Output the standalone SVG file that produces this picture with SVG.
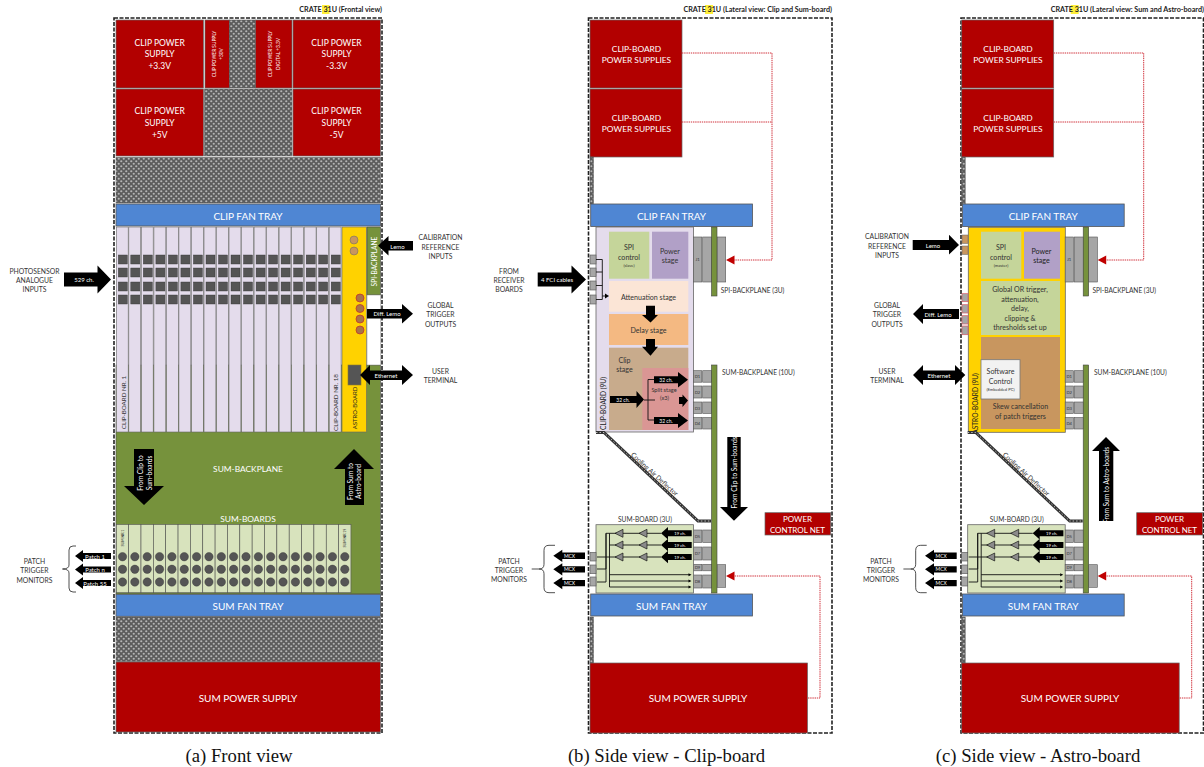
<svg xmlns="http://www.w3.org/2000/svg" width="1204" height="767" viewBox="0 0 1204 767">
<style>
text{font-family:Lato,"Open Sans","Liberation Sans",sans-serif;text-anchor:middle;dominant-baseline:central;fill:#333}
.w{fill:#fff}
.k{fill:#222}
.crate{font-size:7.2px;font-weight:700;text-anchor:end;fill:#222}
.cap{font-family:"Liberation Serif",serif;font-size:18.7px;fill:#111}
.f9{font-size:8.5px}.f98{font-size:10px}.f11{font-size:10px}.f84{font-size:8.4px}.f8{font-size:8px}.f68{font-size:6.8px}.f71{font-size:7.1px}.f65{font-size:6.6px}.f62{font-size:6.2px}.f6{font-size:6px}.f56{font-size:5.6px}.f5{font-size:5px}.f48{font-size:4.8px}.f4{font-size:4.2px}.f3{font-size:3.6px}
.red{fill:#b20000;stroke:#666;stroke-width:.7}
.blue{fill:#4f86d3;stroke:#555;stroke-width:.8}
.hatch{fill:url(#hp);stroke:#555;stroke-width:.5}
.dash{fill:none;stroke:#222;stroke-width:1.6;stroke-dasharray:4 1.5}
.bp{fill:#76923c;stroke:#444;stroke-width:.6}
.conn{fill:#a6a6a6;stroke:#555;stroke-width:.6}
.blk{fill:#000}
.line{fill:none;stroke:#111;stroke-width:.9}
.reddot{fill:none;stroke:#d0303a;stroke-width:1;stroke-dasharray:1.4 .8}
.redh{fill:#c00000}
.defl{fill:none;stroke:#333;stroke-width:3}
.defl2{fill:none;stroke:#bbb;stroke-width:1;stroke-dasharray:1.5 2}
.amp{fill:#8a8a8a;stroke:#000;stroke-width:.6}
</style>
<defs>
<pattern id="hp" width="5" height="5" patternUnits="userSpaceOnUse">
<rect width="5" height="5" fill="#5c5c5c"/>
<circle cx="1.25" cy="1.25" r="1.1" fill="#b5b5b5"/>
<circle cx="3.75" cy="3.75" r="1.1" fill="#b5b5b5"/>
</pattern>
<g id="cb">
<rect x="0" y="0" width="11.9" height="205" fill="#e4dcec" stroke="#666" stroke-width=".6"/>
<rect x="2" y="28" width="9" height="9" fill="#555" stroke="#333" stroke-width=".4"/>
<rect x="2" y="41" width="9" height="9" fill="#555" stroke="#333" stroke-width=".4"/>
<rect x="2" y="55" width="9" height="9" fill="#555" stroke="#333" stroke-width=".4"/>
<rect x="2" y="68" width="9" height="9" fill="#555" stroke="#333" stroke-width=".4"/>
</g>
<g id="sb">
<rect x="0" y="0" width="12.35" height="68.2" fill="#d8e3bd" stroke="#555" stroke-width=".6"/>
<circle cx="6.2" cy="32.2" r="4.2" fill="#555" stroke="#333" stroke-width=".4"/>
<circle cx="6.2" cy="44.8" r="4.2" fill="#555" stroke="#333" stroke-width=".4"/>
<circle cx="6.2" cy="57.5" r="4.2" fill="#555" stroke="#333" stroke-width=".4"/>
</g>
<g id="back-conns">
<rect class="conn" x="693.5" y="237" width="8.3" height="45"/>
<rect class="conn" x="702.7" y="237" width="9" height="45"/>
<rect class="conn" x="717" y="237" width="8.7" height="45"/>
<rect class="conn" x="693.5" y="370.7" width="8.3" height="11.5"/><rect class="conn" x="702.7" y="370.7" width="9" height="11.5"/>
<rect class="conn" x="693.5" y="386" width="8.3" height="12"/><rect class="conn" x="702.7" y="386" width="9" height="12"/>
<rect class="conn" x="693.5" y="402" width="8.3" height="11.5"/><rect class="conn" x="702.7" y="402" width="9" height="11.5"/>
<rect class="conn" x="693.5" y="417.5" width="8.3" height="11.5"/><rect class="conn" x="702.7" y="417.5" width="9" height="11.5"/>
<rect class="conn" x="693.5" y="530" width="8.3" height="12.5"/><rect class="conn" x="702.7" y="530" width="9" height="12.5"/>
<rect class="conn" x="693.5" y="547" width="8.3" height="13"/><rect class="conn" x="702.7" y="547" width="9" height="13"/>
<rect class="conn" x="693.5" y="564.3" width="8.3" height="6.5"/><rect class="conn" x="702.7" y="564.3" width="9" height="6.5"/>
<rect class="conn" x="693.5" y="575" width="8.3" height="13"/><rect class="conn" x="702.7" y="575" width="9" height="13"/>
<rect class="conn" x="717" y="564.7" width="8.7" height="22.6"/>
</g>
<g id="sum-tree">
<path class="line" d="M661 533.3H606V569H597M661 545H609.5M661 557H597M609.5 533.3V587"/>
<path class="line" d="M597 582H606V533.3"/>
<path class="line" d="M609.5 574.7H689M609.5 581H689M609.5 587H689"/>
<path class="blk" d="M691.5 574.7l-3-1.5v3zM691.5 581l-3-1.5v3zM691.5 587l-3-1.5v3z"/>
<path class="amp" d="M615 533.3l8-4v8zM639 533.3l8-4v8zM615 545l8-4v8zM639 545l8-4v8zM615 557l8-4v8zM639 557l8-4v8z"/>
<path class="blk" d="M661 533.3l7-6.2v3.2h23.7v6h-23.7v3.2zM661 545l7-6.2v3.2h23.7v6h-23.7v3.2zM661 557l7-6.2v3.2h23.7v6h-23.7v3.2z"/>
</g>
<g id="lat-red">
<path class="reddot" d="M682 53H772V260H734M682 122H772M808 698H820V576H734"/>
<path class="redh" d="M726 260l8.5-4.5v9zM726 576l8.5-4.5v9z"/>
</g>
<g id="mcx">
<rect class="conn" x="590" y="552.3" width="6" height="8.7"/>
<rect class="conn" x="590" y="565" width="6" height="8.7"/>
<rect class="conn" x="590" y="577" width="6" height="9"/>
</g>
<g id="mcx-arrows">
<path class="blk" d="M553.3 555.7l9-6v2.9H585v6.4h-22.7v2.9zM553.3 569.3l9-6v2.9H585v6.4h-22.7v2.9zM553.3 583l9-6v2.9H585v6.4h-22.7v2.9z"/>
<path fill="none" stroke="#222" stroke-width=".8" d="M555 545.3h-6q-5 0-5 5v14q0 4.7-5 4.7h-7.3M539 569q5 0 5 4.7v14q0 5 5 5h6"/>
</g>
<g id="deflector">
<path class="defl" d="M596 432.5H604L698 521H711"/>
<path class="defl2" d="M596 432.5H604L698 521H711"/>
</g>
</defs>

<rect width="1204" height="767" fill="#fff"/>

<g id="panel-a">
<rect id="crate-a-border" class="dash" x="114" y="18" width="268" height="715"/>
<rect x="322" y="5" width="7.5" height="9" fill="#ffef3a"/>
<text class="crate" x="382" y="9.7">CRATE 31U (Frontal view)</text>
<g id="a-psu-33p"><rect class="red" x="116" y="20" width="87.4" height="68"/><text class="w f9" x="159.7" y="42.7">CLIP POWER</text><text class="w f9" x="159.7" y="54">SUPPLY</text><text class="w f9" x="159.7" y="66">+3.3V</text></g>
<g id="a-psu-30"><rect class="red" x="205" y="20" width="24.5" height="68"/><text class="w f48" transform="translate(213.5 54) rotate(-90)">CLIP POWER SUPPLY</text><text class="w f48" transform="translate(220.5 54) rotate(-90)">+30V</text></g>
<rect id="a-hatch-1" class="hatch" x="229.5" y="20" width="26" height="68"/>
<g id="a-psu-dig"><rect class="red" x="255.5" y="20" width="36.5" height="68"/><text class="w f48" transform="translate(269.5 54) rotate(-90)">CLIP POWER SUPPLY</text><text class="w f48" transform="translate(278 54) rotate(-90)">DIGITAL +3.3V</text></g>
<g id="a-psu-33m"><rect class="red" x="293" y="20" width="87.5" height="68"/><text class="w f9" x="336.5" y="42.7">CLIP POWER</text><text class="w f9" x="336.5" y="54">SUPPLY</text><text class="w f9" x="336.5" y="66">-3.3V</text></g>
<g id="a-psu-5p"><rect class="red" x="116" y="89" width="87.4" height="67"/><text class="w f9" x="159.7" y="111.3">CLIP POWER</text><text class="w f9" x="159.7" y="123.3">SUPPLY</text><text class="w f9" x="159.7" y="135">+5V</text></g>
<rect id="a-hatch-2" class="hatch" x="204.5" y="89" width="87.5" height="67"/>
<g id="a-psu-5m"><rect class="red" x="293" y="89" width="87.5" height="67"/><text class="w f9" x="336.5" y="111.3">CLIP POWER</text><text class="w f9" x="336.5" y="123.3">SUPPLY</text><text class="w f9" x="336.5" y="135">-5V</text></g>
<rect id="a-hatch-3" class="hatch" x="116" y="157.5" width="264.5" height="45.5"/>
<g id="a-clip-fan"><rect class="blue" x="116" y="204" width="264.5" height="22"/><text class="w f11" x="248" y="215.8">CLIP FAN TRAY</text></g>

<g id="a-sum-backplane"><rect class="bp" x="116" y="365" width="264.5" height="229" stroke="none"/><text class="w f84" x="248" y="468.7">SUM-BACKPLANE</text><text class="w f84" x="248" y="518.5">SUM-BOARDS</text></g>
<g id="a-clip-boards">
<use href="#cb" x="116.3" y="227"/><use href="#cb" x="128.8" y="227"/><use href="#cb" x="141.3" y="227"/><use href="#cb" x="153.9" y="227"/><use href="#cb" x="166.4" y="227"/><use href="#cb" x="178.9" y="227"/><use href="#cb" x="191.4" y="227"/><use href="#cb" x="204" y="227"/><use href="#cb" x="216.5" y="227"/><use href="#cb" x="229" y="227"/><use href="#cb" x="241.5" y="227"/><use href="#cb" x="254.1" y="227"/><use href="#cb" x="266.6" y="227"/><use href="#cb" x="279.1" y="227"/><use href="#cb" x="291.6" y="227"/><use href="#cb" x="304.2" y="227"/><use href="#cb" x="316.7" y="227"/><use href="#cb" x="329.2" y="227"/>
<text class="f62" transform="translate(123 402.5) rotate(-90)">CLIP-BOARD NR. 1</text>
<text class="f62" transform="translate(335.5 402.5) rotate(-90)">CLIP-BOARD NR. 18</text>
</g>
<g id="a-astro">
<rect x="342" y="227" width="24.5" height="205" fill="#ffd200" stroke="#666" stroke-width=".6"/>
<circle cx="354" cy="240" r="4" fill="#c8965f" stroke="#666" stroke-width=".5"/><circle cx="354" cy="251" r="4" fill="#c8965f" stroke="#666" stroke-width=".5"/>
<circle cx="360" cy="298" r="4" fill="#a8744a" stroke="#c0392b" stroke-width=".8"/><circle cx="360" cy="308.5" r="4" fill="#a8744a" stroke="#c0392b" stroke-width=".8"/><circle cx="360" cy="319" r="4" fill="#a8744a" stroke="#c0392b" stroke-width=".8"/><circle cx="360" cy="330" r="4" fill="#a8744a" stroke="#c0392b" stroke-width=".8"/>
<rect x="348" y="365" width="13" height="20" fill="#555" stroke="#8a7a30" stroke-width=".6"/>
<text class="f6 k" transform="translate(354.5 408) rotate(-90)">ASTRO-BOARD</text>
</g>
<g id="a-spi-backplane"><rect class="bp" x="367" y="227" width="13.5" height="68"/><text class="w f65" transform="translate(374 261.5) rotate(-90)">SPI-BACKPLANE</text></g>
<rect id="a-gap" x="367" y="295" width="13.5" height="70" fill="#fff" stroke="#888" stroke-width=".5"/>
<g id="a-sum-boards">
<use href="#sb" x="116.3" y="524.5"/><use href="#sb" x="128.65" y="524.5"/><use href="#sb" x="141" y="524.5"/><use href="#sb" x="153.35" y="524.5"/><use href="#sb" x="165.7" y="524.5"/><use href="#sb" x="178.05" y="524.5"/><use href="#sb" x="190.4" y="524.5"/><use href="#sb" x="202.75" y="524.5"/><use href="#sb" x="215.1" y="524.5"/><use href="#sb" x="227.45" y="524.5"/><use href="#sb" x="239.8" y="524.5"/><use href="#sb" x="252.15" y="524.5"/><use href="#sb" x="264.5" y="524.5"/><use href="#sb" x="276.85" y="524.5"/><use href="#sb" x="289.2" y="524.5"/><use href="#sb" x="301.55" y="524.5"/><use href="#sb" x="313.9" y="524.5"/><use href="#sb" x="326.25" y="524.5"/><use href="#sb" x="338.6" y="524.5"/>
<text class="f3" transform="translate(122.5 538) rotate(-90)">SUM NR.1</text>
<text class="f3" transform="translate(344.8 538) rotate(-90)">SUM NR.19</text>
</g>
<g id="a-sum-fan"><rect class="blue" x="116" y="594.3" width="264.5" height="22"/><text class="w f11" x="248" y="605.5">SUM FAN TRAY</text></g>
<rect id="a-hatch-4" class="hatch" x="116" y="617" width="264.5" height="44.5"/>
<g id="a-sum-psu"><rect class="red" x="116" y="662" width="264.5" height="70"/><text class="w f98" x="248" y="697.5">SUM POWER SUPPLY</text></g>
<text class="f68" x="34.5" y="271">PHOTOSENSOR</text><text class="f68" x="34.5" y="279.5">ANALOGUE</text><text class="f68" x="34.5" y="289">INPUTS</text>
<text class="f68" x="440.5" y="237">CALIBRATION</text><text class="f68" x="440.5" y="246.5">REFERENCE</text><text class="f68" x="440.5" y="255.5">INPUTS</text>
<text class="f68" x="440.5" y="304.5">GLOBAL</text><text class="f68" x="440.5" y="314">TRIGGER</text><text class="f68" x="440.5" y="323.5">OUTPUTS</text>
<text class="f68" x="440.5" y="370.5">USER</text><text class="f68" x="440.5" y="380">TERMINAL</text>
<text class="f68" x="34.5" y="560.5">PATCH</text><text class="f68" x="34.5" y="570">TRIGGER</text><text class="f68" x="34.5" y="579.5">MONITORS</text>
<text class="cap" x="239" y="755">(a) Front view</text>
</g>

<g id="panel-b">
<rect id="crate-b-border" class="dash" x="588.5" y="18" width="243.5" height="715"/>
<rect x="705" y="5" width="8" height="9" fill="#ffef3a"/>
<text class="crate" x="832" y="9.7">CRATE 31U (Lateral view: Clip and Sum-board)</text>
<g id="b-psu-1"><rect class="red" x="590" y="20" width="92" height="68"/><text class="w f84" x="636.5" y="48.5">CLIP-BOARD</text><text class="w f84" x="636.5" y="60">POWER SUPPLIES</text></g>
<g id="b-psu-2"><rect class="red" x="590" y="89" width="92" height="68"/><text class="w f84" x="636.5" y="118">CLIP-BOARD</text><text class="w f84" x="636.5" y="129">POWER SUPPLIES</text></g>
<rect class="hatch" x="590" y="157" width="3.5" height="47"/>
<g id="b-clip-fan"><rect class="blue" x="590.7" y="204" width="161.8" height="22.5"/><text class="w f11" x="671.5" y="215.8">CLIP FAN TRAY</text></g>
<g id="b-clip-board">
<rect x="596" y="227" width="97.5" height="205" fill="#e4dcec" stroke="#666" stroke-width=".8"/>
<rect x="609" y="231.7" width="40.3" height="47" fill="#c5d59a"/><text class="f71" x="629" y="247.5">SPI</text><text class="f71" x="629" y="257">control</text><text class="f4" x="629" y="265">(slave)</text>
<rect x="652" y="231.7" width="36.3" height="47" fill="#b1a0c7"/><text class="f71" x="670" y="251">Power</text><text class="f71" x="670" y="260.5">stage</text>
<rect x="609" y="281" width="79.3" height="30.7" fill="#fbe5d6"/><text class="f71" x="648.5" y="297">Attenuation stage</text>
<rect x="609" y="314" width="79.3" height="31" fill="#f4b982"/><text class="f71" x="648.5" y="330">Delay stage</text>
<rect x="609" y="347.7" width="79.3" height="82.3" fill="#c8ab8c"/><text class="f71" x="624.5" y="360.5">Clip</text><text class="f71" x="624.5" y="369.5">stage</text>
<rect x="642.3" y="368" width="46" height="62" fill="#da9694"/><text class="f56" x="664" y="389">Split stage</text><text class="f56" x="664.5" y="397.5">(x3)</text>
<text class="k f65" transform="translate(603 403.5) rotate(-90)">CLIP-BOARD (9U)</text>
</g>
<use href="#back-conns"/>
<g id="b-spi-backplane"><rect class="bp" x="711.5" y="227" width="5.5" height="69"/><text class="f65" x="720.7" y="290" style="text-anchor:start">SPI-BACKPLANE (3U)</text></g>
<g id="b-sum-backplane"><rect class="bp" x="711.5" y="365" width="5.5" height="228"/><text class="f65" x="722" y="372" style="text-anchor:start">SUM-BACKPLANE (10U)</text></g>
<g id="b-labels-conn">
<text class="f4" x="697.5" y="259.5">J1</text><text class="f4" x="697.5" y="376.5">D1</text><text class="f4" x="697.5" y="392">D2</text><text class="f4" x="697.5" y="408">D3</text><text class="f4" x="697.5" y="423.5">D4</text><text class="f4" x="697.5" y="536.5">D5</text><text class="f4" x="697.5" y="553.5">D7</text><text class="f4" x="697.5" y="567.5">D9</text><text class="f4" x="697.5" y="581.5">D8</text>
</g>
<g id="b-receiver-conns"><rect class="conn" x="590" y="255" width="6" height="9"/><rect class="conn" x="590" y="268" width="6" height="8.5"/><rect class="conn" x="590" y="281" width="6" height="9"/><rect class="conn" x="590" y="295" width="6" height="9"/></g>
<g id="b-sum-board"><rect x="596" y="524.7" width="97.5" height="68.3" fill="#d8e3bd" stroke="#666" stroke-width=".8"/></g>
<use href="#mcx"/>
<use href="#sum-tree"/>
<use href="#deflector"/>
<g id="b-sum-fan"><rect class="blue" x="590.7" y="594" width="161.8" height="22"/><text class="w f11" x="671.5" y="605.5">SUM FAN TRAY</text></g>
<rect class="hatch" x="590" y="617" width="3.5" height="46"/>
<g id="b-sum-psu"><rect class="red" x="590" y="663" width="217.5" height="70"/><text class="w f98" x="698" y="697.5">SUM POWER SUPPLY</text></g>
<g id="b-pcn"><rect class="red" x="765" y="512.7" width="65.7" height="22.3"/><text class="w f8" x="797.5" y="518.5">POWER</text><text class="w f8" x="797.5" y="530">CONTROL NET</text></g>
<text class="f65" x="645" y="519">SUM-BOARD (3U)</text>
<text class="f65" transform="translate(655 473.7) rotate(42.5)">Cooling Air Deflector</text>
<text class="f68" x="509" y="270.7">FROM</text><text class="f68" x="509" y="279.5">RECEIVER</text><text class="f68" x="509" y="289">BOARDS</text>
<text class="f68" x="509" y="561">PATCH</text><text class="f68" x="509" y="570">TRIGGER</text><text class="f68" x="509" y="579">MONITORS</text>
<text class="cap" x="666.5" y="755">(b) Side view - Clip-board</text>
</g>

<g id="panel-c">
<rect id="crate-c-border" class="dash" x="961" y="18" width="242.5" height="715"/>
<rect x="1070.7" y="5" width="8" height="9" fill="#ffef3a"/>
<text class="crate" x="1204" y="9.7">CRATE 31U (Lateral view: Sum and Astro-board)</text>
<g id="c-psu-1"><rect class="red" x="961.7" y="20" width="92" height="68"/><text class="w f84" x="1008" y="48.5">CLIP-BOARD</text><text class="w f84" x="1008" y="60">POWER SUPPLIES</text></g>
<g id="c-psu-2"><rect class="red" x="961.7" y="89" width="92" height="68"/><text class="w f84" x="1008" y="118">CLIP-BOARD</text><text class="w f84" x="1008" y="129">POWER SUPPLIES</text></g>
<rect class="hatch" x="961.7" y="157" width="3.5" height="47"/>
<g id="c-clip-fan"><rect class="blue" x="962.4" y="204" width="161.8" height="22.5"/><text class="w f11" x="1043.2" y="215.8">CLIP FAN TRAY</text></g>
<g id="c-astro-board">
<rect x="968.3" y="227.3" width="97" height="205" fill="#ffd200" stroke="#666" stroke-width=".8"/>
<rect x="981" y="231.7" width="40.3" height="47" fill="#c5d59a"/><text class="f71" x="1001" y="247.5">SPI</text><text class="f71" x="1001" y="257">control</text><text class="f4" x="1001" y="265">(master)</text>
<rect x="1024" y="231.7" width="36" height="47" fill="#b1a0c7"/><text class="k f71" x="1041.5" y="251">Power</text><text class="k f71" x="1041.5" y="260.5">stage</text>
<rect x="981" y="281" width="79" height="54" fill="#c5d59a"/><text class="f71" x="1020" y="289.5">Global OR trigger,</text><text class="f71" x="1020" y="299">attenuation,</text><text class="f71" x="1020" y="308.5">delay,</text><text class="f71" x="1020" y="318">clipping &amp;</text><text class="f71" x="1020" y="327.5">thresholds set up</text>
<rect x="981" y="337" width="79" height="92" fill="#c8965f"/>
<rect x="981" y="359.7" width="39" height="39.3" fill="#f2f2f2" stroke="#777" stroke-width=".8"/><text class="f71" x="1000.5" y="371.5">Software</text><text class="f71" x="1000.5" y="381">Control</text><text class="f4" x="1000.5" y="389">(Embedded PC)</text>
<text class="f71" x="1020.5" y="406.5">Skew cancellation</text><text class="f71" x="1020.5" y="416">of patch triggers</text>
<text class="k f65" transform="translate(975 403.5) rotate(-90)">ASTRO-BOARD (9U)</text>
</g>
<g id="c-sum-board"><rect x="967.7" y="524.7" width="97.5" height="68.3" fill="#d8e3bd" stroke="#666" stroke-width=".8"/></g>
<g transform="translate(371.7 0)">
<use href="#back-conns"/>
<use href="#mcx"/>
<use href="#sum-tree"/>
<use href="#deflector"/>
</g>
<g id="c-spi-backplane"><rect class="bp" x="1083.2" y="227" width="5.5" height="69"/><text class="f65" x="1092.4" y="290" style="text-anchor:start">SPI-BACKPLANE (3U)</text></g>
<g id="c-sum-backplane"><rect class="bp" x="1083.2" y="365" width="5.5" height="228"/><text class="f65" x="1094" y="372" style="text-anchor:start">SUM-BACKPLANE (10U)</text></g>
<g id="c-labels-conn">
<text class="f4" x="1069.2" y="259.5">J1</text><text class="f4" x="1069.2" y="376.5">D1</text><text class="f4" x="1069.2" y="392">D2</text><text class="f4" x="1069.2" y="408">D3</text><text class="f4" x="1069.2" y="423.5">D4</text><text class="f4" x="1069.2" y="536.5">D5</text><text class="f4" x="1069.2" y="553.5">D7</text><text class="f4" x="1069.2" y="567.5">D9</text><text class="f4" x="1069.2" y="581.5">D8</text>
</g>
<g id="c-left-conns">
<rect x="962" y="235" width="6" height="8.5" fill="#c8965f" stroke="#666" stroke-width=".5"/><rect x="962" y="246" width="6" height="8.5" fill="#c8965f" stroke="#666" stroke-width=".5"/>
<rect x="962" y="293.7" width="6" height="8" fill="#a6a6a6" stroke="#d9606a" stroke-width=".7"/><rect x="962" y="304.7" width="6" height="8.3" fill="#a6a6a6" stroke="#d9606a" stroke-width=".7"/><rect x="962" y="315.7" width="6" height="8.3" fill="#a6a6a6" stroke="#d9606a" stroke-width=".7"/><rect x="962" y="326" width="6" height="8.7" fill="#a6a6a6" stroke="#d9606a" stroke-width=".7"/>
</g>
<g id="c-sum-fan"><rect class="blue" x="962.4" y="594" width="161.8" height="22"/><text class="w f11" x="1043.2" y="605.5">SUM FAN TRAY</text></g>
<rect class="hatch" x="961.7" y="617" width="3.5" height="46"/>
<g id="c-sum-psu"><rect class="red" x="961.7" y="663" width="217.5" height="70"/><text class="w f98" x="1070" y="697.5">SUM POWER SUPPLY</text></g>
<g id="c-pcn"><rect class="red" x="1136.7" y="512.7" width="66" height="22.3"/><text class="w f8" x="1169.5" y="518.5">POWER</text><text class="w f8" x="1169.5" y="530">CONTROL NET</text></g>
<text class="f65" x="1016.7" y="519">SUM-BOARD (3U)</text>
<text class="f65" transform="translate(1026.7 473.7) rotate(42.5)">Cooling Air Deflector</text>
<text class="f68" x="887" y="236">CALIBRATION</text><text class="f68" x="887" y="245.5">REFERENCE</text><text class="f68" x="887" y="254.5">INPUTS</text>
<text class="f68" x="887" y="304.7">GLOBAL</text><text class="f68" x="887" y="314">TRIGGER</text><text class="f68" x="887" y="323.7">OUTPUTS</text>
<text class="f68" x="887" y="370.7">USER</text><text class="f68" x="887" y="380">TERMINAL</text>
<text class="f68" x="881" y="561">PATCH</text><text class="f68" x="881" y="570">TRIGGER</text><text class="f68" x="881" y="579">MONITORS</text>
<text class="cap" x="1038" y="755">(c) Side view - Astro-board</text>
</g>

<g id="connectors">
<path class="blk" d="M111 279.5L97.5 265.5V272.5H64V286.5H97.5V293.5z"/><text class="w f6" x="84" y="279.5">529 ch.</text>
<path class="blk" d="M378 245.7L388.5 236V241H413V250.5H388.5V255.5z"/><text class="w f6" x="397.5" y="246">Lemo</text>
<path class="blk" d="M413 313.7L402 304V309H367V318.5H402V323.5z"/><text class="w f6" x="387" y="313.7">Diff. Lemo</text>
<path class="blk" d="M360 375L370 365V370.5H402V365L413 375L402 385V380H370V385z"/><text class="w f6" x="386" y="375.5">Ethernet</text>
<path class="blk" d="M134 449H154V486H164L144 505L124 486H134z"/><text class="w f65" transform="translate(140 473) rotate(-90)">From Clip to</text><text class="w f65" transform="translate(148.5 473) rotate(-90)">Sum-boards</text>
<path class="blk" d="M354 449L374 469H364V505H345V469H334z"/><text class="w f65" transform="translate(350 481.5) rotate(-90)">From Sum to</text><text class="w f65" transform="translate(358 481.5) rotate(-90)">Astro-board</text>
<path class="blk" d="M75 556l8-6v3H111v6H83v3zM75 569.5l8-6v3H111v6H83v3zM75 583l8-6v3H111v6H83v3z"/>
<text class="w f6" x="95" y="556">Patch 1</text><text class="w f6" x="95" y="569.5">Patch n</text><text class="w f6" x="95" y="583">Patch 55</text>
<path fill="none" stroke="#222" stroke-width=".8" d="M76 546h-3q-4 0-4 4v15q0 4-6.5 4q6.5 0 6.500 4v15q0 4 4 4h3"/>
<path class="blk" d="M586 279.5L571.5 265.5V272.5H537.7V286.5H571.5V293.5z"/><text class="w f6" x="557" y="279.5">4 FCI cables</text>
<path class="line" d="M596 259.5H602.3M596 272H602.3M596 285.5H602.3M596 299.5H602.3M602.3 259.5V299.500"/>
<path class="line" d="M602.3 296H606"/><path class="blk" d="M609 296l-4-2.5v5z"/>
<path class="blk" d="M646 305.7H655V315H658L650.5 322.5L642 315H646z"/>
<path class="blk" d="M646 339H655V346.7H658L650.5 355.7L642 346.700H646z"/>
<path class="line" d="M644 400H655M648 379.5V420H654M648 379.5H654"/>
<path class="blk" d="M644 399.500L636.500 391V396H610V403H636.500V408z"/><text class="w f5" x="623" y="399.500">32 ch.</text>
<path class="blk" d="M688 379.700L678 372V376.200H654V383.200H678V387.500z"/><text class="w f5" x="666" y="379.700">32 ch.</text>
<path class="blk" d="M688 420.500L678 413V417H654V424H678V428z"/><text class="w f5" x="666" y="420.500">32 ch.</text>
<path class="blk" d="M688 400.500L682.500 394.500V397H679V404H682.500V407z"/>
<use href="#lat-red"/>
<path class="blk" d="M727.300 437H740.700V507H748L734 520.700L720 507H727.300z"/><text class="w f65" transform="translate(734 472.500) rotate(-90)">From Clip to Sum-boards</text>
<use href="#mcx-arrows"/>
<text class="w f5" x="569.500" y="555.700">MCX</text><text class="w f5" x="569.500" y="569.300">MCX</text><text class="w f5" x="569.500" y="583">MCX</text>
<text class="w f4" x="680" y="533.300">19 ch.</text><text class="w f4" x="680" y="545">19 ch.</text><text class="w f4" x="680" y="557">19 ch.</text>
<path class="blk" d="M959 245L949 234.700V240H912.700V250H949V254.500z"/><text class="w f6" x="933" y="245.300">Lemo</text>
<path class="blk" d="M913 314L923 304V309H959V319H923V324z"/><text class="w f6" x="938" y="314">Diff. Lemo</text>
<path class="blk" d="M913 375L923 365V370.500H955V365L965.300 375L955 385V380H923V385z"/><text class="w f6" x="939" y="375.300">Ethernet</text>
<g transform="translate(371.700 0)"><use href="#lat-red"/><use href="#mcx-arrows"/></g>
<path class="blk" d="M1106 437L1120 451H1113.300V521H1099V451H1092z"/><text class="w f65" transform="translate(1106 485) rotate(-90)">From Sum to Astro-boards</text>
<text class="w f5" x="941.200" y="555.700">MCX</text><text class="w f5" x="941.200" y="569.300">MCX</text><text class="w f5" x="941.200" y="583">MCX</text>
<text class="w f4" x="1051.700" y="533.300">19 ch.</text><text class="w f4" x="1051.700" y="545">19 ch.</text><text class="w f4" x="1051.700" y="557">19 ch.</text>
</g>
</svg>
